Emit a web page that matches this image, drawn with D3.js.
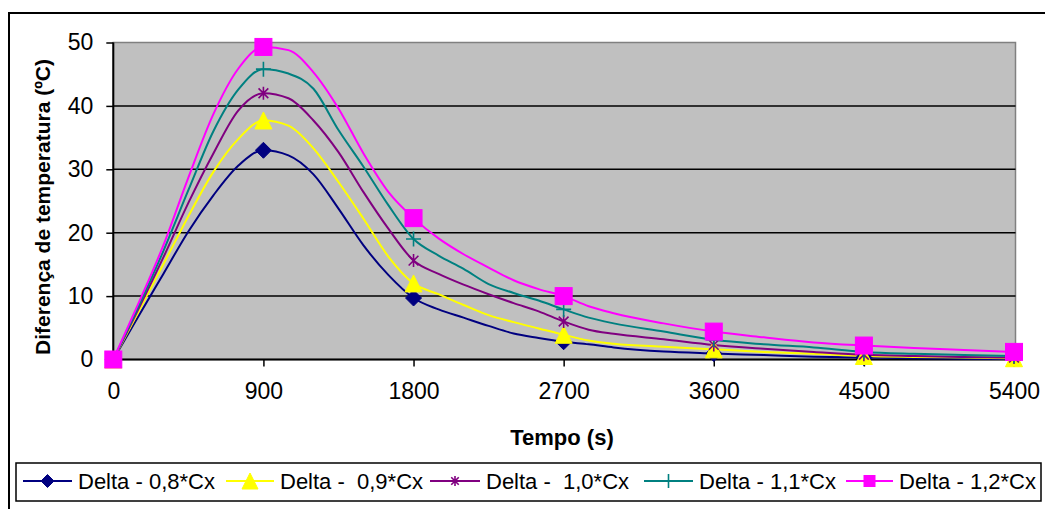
<!DOCTYPE html>
<html><head><meta charset="utf-8">
<script src="https://cdn.jsdelivr.net/npm/d3@7"></script>
<style>
html,body{margin:0;padding:0;background:#fff;}
svg{display:block;font-family:"Liberation Sans",Arial,sans-serif;}
</style></head>
<body>
<svg id="chart" width="1045" height="509"></svg>
<script>
// ---- data ----
const times = [0,150,300,450,600,750,900,1050,1200,1350,1500,1650,1800,1950,2100,2250,2400,2550,2700,2850,3000,3300,3600,3900,4200,4500,4800,5100,5400];
const delta08 = [0,6.8,13.5,20.2,25.9,30.6,33.0,32.2,29.2,23.8,18.0,13.3,9.7,7.9,6.6,5.3,4.1,3.4,2.8,2.4,1.9,1.25,0.95,0.7,0.45,0.3,0.2,0.12,0.08];
const delta09 = [0,7.5,15.0,22.6,29.6,34.8,37.7,36.9,33.3,28.0,22.2,16.2,12.0,10.3,8.6,7.0,5.9,4.9,3.9,3.0,2.5,2.0,1.6,1.2,0.9,0.55,0.4,0.3,0.2];
const delta10 = [0,7.9,16.1,24.7,32.5,39.3,42.0,41.2,37.7,32.7,26.4,20.6,15.6,13.5,11.8,10.3,8.9,7.6,6.0,4.7,4.05,3.2,2.3,1.7,1.2,0.75,0.55,0.4,0.3];
const delta11 = [0,8.3,17.1,26.7,36.0,42.6,45.8,45.1,42.7,36.2,30.4,24.3,19.0,16.4,14.3,11.9,10.5,9.3,7.9,6.6,5.7,4.4,3.1,2.4,1.9,1.2,0.9,0.7,0.55];
const delta12 = [0,8.8,18.0,28.7,38.7,45.9,49.3,48.8,45.3,39.6,32.5,26.4,22.3,19.1,16.6,14.5,12.5,11.1,10.0,8.4,7.3,5.7,4.4,3.5,2.7,2.2,1.8,1.5,1.2];
const seriesNames = ["Delta - 0,8*Cx","Delta -  0,9*Cx","Delta -  1,0*Cx","Delta - 1,1*Cx","Delta - 1,2*Cx"];
const xTicks = [0,900,1800,2700,3600,4500,5400];
const yTicks = [0,10,20,30,40,50];
const markerTimes = [0,900,1800,2700,3600,4500,5400];

const seriesValues = [delta08,delta09,delta10,delta11,delta12];
const colors = ["#000080","#FFFF00","#800080","#008080","#FF00FF"];
const markerTypes = ["diamond","triangle","star","plus","square"];

const svg = d3.select("#chart");
const x = d3.scaleLinear().domain([0,5400]).range([113.3,1014]);
const y = d3.scaleLinear().domain([0,50]).range([359.5,42.5]);

// outer chart border
svg.append("rect").attr("x",9).attr("y",13).attr("width",1100).attr("height",600)
  .attr("fill","#fff").attr("stroke","#000").attr("stroke-width",2);

// plot area
svg.append("rect").attr("x",x(0)).attr("y",y(50)).attr("width",1015.5-x(0)).attr("height",y(0)-y(50))
  .attr("fill","#C0C0C0").attr("stroke","#808080").attr("stroke-width",1.5);

// gridlines
svg.append("g").selectAll("line").data(yTicks.filter(d=>d>0 && d<50)).join("line")
  .attr("x1",x(0)).attr("x2",1015.5).attr("y1",d=>y(d)).attr("y2",d=>y(d))
  .attr("stroke","#000").attr("stroke-width",1.5);

// axes
const xAxis = d3.axisBottom(x).tickValues(xTicks).tickSize(7).tickPadding(16).tickFormat(d3.format("d"));
const gx = svg.append("g").attr("transform",`translate(0,${y(0)})`).call(xAxis);
gx.select(".domain").attr("stroke","#000").attr("stroke-width",2).attr("d",`M${x(0)},0H1015.5`);
gx.selectAll(".tick line").attr("stroke","#000").attr("stroke-width",1.5);
gx.selectAll(".tick text").attr("font-size",23).attr("fill","#000").attr("font-family","Liberation Sans, Arial, sans-serif");

const yAxis = d3.axisLeft(y).tickValues(yTicks).tickSize(7).tickPadding(13).tickFormat(d3.format("d"));
const gy = svg.append("g").attr("transform",`translate(${x(0)},0)`).call(yAxis);
gy.select(".domain").attr("stroke","#000").attr("stroke-width",2).attr("d",`M0,${y(0)}V${y(50)}`);
gy.selectAll(".tick line").attr("stroke","#000").attr("stroke-width",1.5);
gy.selectAll(".tick text").attr("font-size",23).attr("fill","#000").attr("font-family","Liberation Sans, Arial, sans-serif");

// axis titles
svg.append("text").attr("x",562).attr("y",445).attr("text-anchor","middle")
  .attr("font-size",22).attr("font-weight","bold").text("Tempo (s)");
svg.append("text").attr("transform",`translate(50,${(366+48)/2}) rotate(-90)`).attr("text-anchor","middle")
  .attr("font-size",21).attr("font-weight","bold").text("Diferença de temperatura (ºC)");

// marker drawing
function drawMarker(g, type, color, s){
  if(type==="diamond"){
    g.append("path").attr("d",`M0,${-s/2}L${s/2},0L0,${s/2}L${-s/2},0Z`).attr("fill",color).attr("stroke",color).attr("stroke-width",1);
  } else if(type==="triangle"){
    g.append("path").attr("d",`M0,${-s/2}L${s/2},${s/2}L${-s/2},${s/2}Z`).attr("fill",color).attr("stroke",color).attr("stroke-width",1);
  } else if(type==="square"){
    g.append("rect").attr("x",-s/2).attr("y",-s/2).attr("width",s).attr("height",s).attr("fill",color).attr("stroke",color).attr("stroke-width",1);
  } else if(type==="plus"){
    g.append("path").attr("d",`M${-s/2},0H${s/2}M0,${-s/2}V${s/2}`).attr("stroke",color).attr("stroke-width",1.6).attr("fill","none");
  } else if(type==="star"){
    const h=s/2, d=s/2*0.75;
    g.append("path").attr("d",`M${-d},${-d}L${d},${d}M${-d},${d}L${d},${-d}M0,${-h}V${h}`).attr("stroke",color).attr("stroke-width",1.6).attr("fill","none");
  }
}
const plotSizes = {diamond:16,triangle:17,star:13,plus:15,square:17};
const legendSizes = {diamond:13,triangle:16,star:10,plus:14,square:11};

const line = d3.line().x(d=>x(d[0])).y(d=>y(d[1])).curve(d3.curveMonotoneX);

// lines
seriesValues.forEach((vals,i)=>{
  const pts = times.map((t,j)=>[t,vals[j]]);
  svg.append("path").datum(pts).attr("d",line).attr("fill","none")
    .attr("stroke",colors[i]).attr("stroke-width",2);
});
// markers
seriesValues.forEach((vals,i)=>{
  const pts = times.map((t,j)=>[t,vals[j]]).filter(p=>markerTimes.includes(p[0]));
  pts.forEach(p=>{
    const g = svg.append("g").attr("transform",`translate(${x(p[0])},${y(p[1])})`);
    drawMarker(g, markerTypes[i], colors[i], plotSizes[markerTypes[i]]);
  });
});

// legend
const lg = svg.append("g");
lg.append("rect").attr("x",16).attr("y",463).attr("width",1025).attr("height",38)
  .attr("fill","#fff").attr("stroke","#000").attr("stroke-width",1.5);
const legendLineX = [[23,72],[226,274],[430,480],[644,693],[846,893]];
seriesNames.forEach((name,i)=>{
  const [a,b] = legendLineX[i];
  const cy = 481;
  lg.append("line").attr("x1",a).attr("x2",b).attr("y1",cy).attr("y2",cy).attr("stroke",colors[i]).attr("stroke-width",2);
  const g = lg.append("g").attr("transform",`translate(${(a+b)/2},${cy})`);
  drawMarker(g, markerTypes[i], colors[i], legendSizes[markerTypes[i]]);
  lg.append("text").attr("x",b+6).attr("y",489).attr("font-size",22).attr("fill","#000")
    .attr("xml:space","preserve").style("white-space","pre").text(name);
});
</script>
</body></html>
